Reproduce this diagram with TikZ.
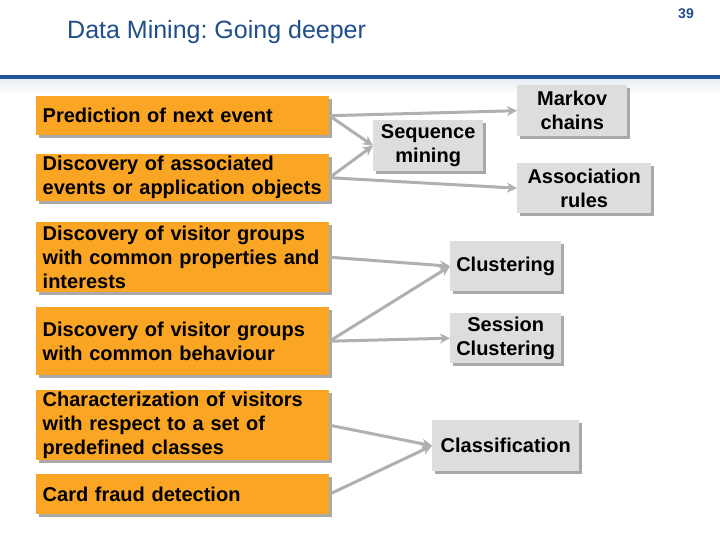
\documentclass[tikz,border=0pt]{standalone}
\usepackage{fontspec}
\setmainfont{Liberation Sans}
\usetikzlibrary{arrows.meta,shadows}
\frenchspacing
\definecolor{orangebox}{RGB}{250,166,36}
\definecolor{greybox}{RGB}{221,221,221}
\definecolor{titleblue}{RGB}{31,78,138}
\definecolor{lineblue}{RGB}{31,85,150}
\definecolor{conn}{RGB}{176,176,176}
\definecolor{shadecol}{RGB}{160,160,160}
\tikzset{
  boxshadow/.style={drop shadow={shadow xshift=3pt, shadow yshift=-3pt, fill=shadecol, opacity=0.9}},
  obox/.style={fill=orangebox, draw=none, anchor=north west, inner xsep=6.5pt, inner ysep=0pt,
    text width=280pt, align=left, font=\fontsize{20}{24}\selectfont\bfseries, boxshadow},
  gbox/.style={fill=greybox, draw=none, anchor=north west, inner sep=0pt, align=center,
    font=\fontsize{20}{24}\selectfont\bfseries, boxshadow},
  conn/.style={draw=conn, line width=3pt, -{Stealth[length=10pt,width=10pt,inset=3pt]}},
}
\begin{document}
\begin{tikzpicture}[x=1pt,y=-1pt]
\fill[white] (0,0) rectangle (720,540);
\useasboundingbox (0,0) rectangle (720,540);

% header
\node[anchor=west, inner sep=0pt, font=\fontsize{25}{30}\selectfont, text=titleblue] (title) at (67,32.5) {Data Mining: Going deeper};
\node[inner sep=0pt, font=\fontsize{14}{16}\selectfont\bfseries, text=titleblue] (pagenum) at (686,14) {39};
\shade[top color=lineblue!10, bottom color=white] (0,79.5) rectangle (720,94);
\fill[lineblue] (0,75.5) rectangle (720,79.5);

% orange boxes
\node[obox, minimum height=39pt] (b1) at (36,96) {Prediction of next event};
\node[obox, minimum height=47pt] (b2) at (36,154) {Discovery of associated\\events or application objects};
\node[obox, minimum height=70pt] (b3) at (36,222) {Discovery of visitor groups\\with common properties and\\interests};
\node[obox, minimum height=68pt] (b4) at (36,307) {Discovery of visitor groups\\with common behaviour};
\node[obox, minimum height=70pt] (b5) at (36,390) {Characterization of visitors\\with respect to a set of\\predefined classes};
\node[obox, minimum height=40pt] (b6) at (36,474) {Card fraud detection};

% grey boxes
\node[gbox, minimum width=110pt, minimum height=51pt] (markov) at (517,85) {Markov\\chains};
\node[gbox, minimum width=134pt, minimum height=50pt] (assoc) at (517,163) {Association\\rules};
\node[gbox, minimum width=110pt, minimum height=51pt] (seq) at (373,120) {Sequence\\mining};
\node[gbox, minimum width=111pt, minimum height=50pt] (clust) at (450,241) {Clustering};
\node[gbox, minimum width=111pt, minimum height=50pt] (sess) at (450,313) {Session\\Clustering};
\node[gbox, minimum width=147pt, minimum height=51pt] (classif) at (432,420) {Classification};

% connectors
\draw[conn] (b1.east) -- (markov.west);
\draw[conn] (b1.east) -- (seq.west);
\draw[conn] (b2.east) -- (seq.west);
\draw[conn] (b2.east) -- (assoc.west);
\draw[conn] (b3.east) -- (clust.west);
\draw[conn] (b4.east) -- (clust.west);
\draw[conn] (b4.east) -- (sess.west);
\draw[conn] (b5.east) -- (classif.west);
\draw[conn] (b6.east) -- (classif.west);
\end{tikzpicture}
\end{document}
